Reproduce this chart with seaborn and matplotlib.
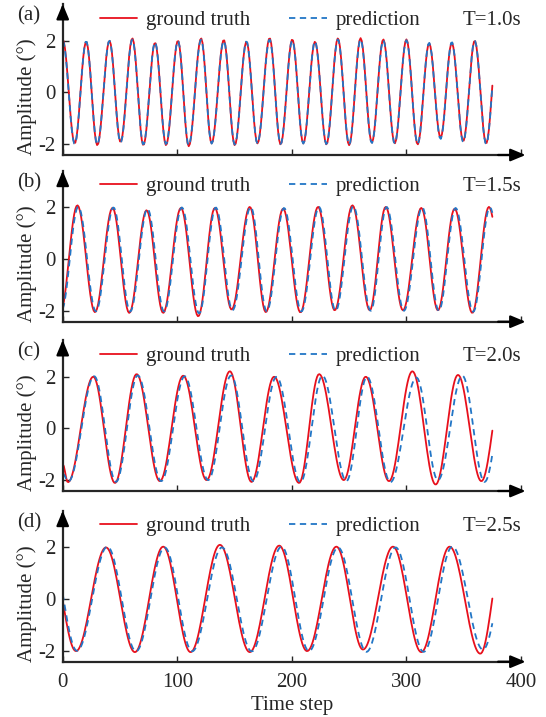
import numpy as np
import matplotlib
matplotlib.use("Agg")
import matplotlib.pyplot as plt
import seaborn as sns

# extrema (time step, amplitude); the curve passes through them
a_times = [0, 10.5, 20.5, 30.2, 40.8, 50.5, 60.8, 70.4, 80.6, 90.2,
           100.6, 110, 120.8, 130, 140.6, 150.2, 160.4, 170, 180.6, 190.2,
           200.4, 210, 220.2, 230.2, 240.2, 250, 260, 269.8, 279.8, 289.8,
           300, 309.8, 319.8, 329.8, 339.6, 349.6, 359.6, 369.6, 379.6]
a_true = [2.05, -1.97, 1.96, -2.04, 2.0, -1.92, 2.09, -2.04, 1.92, -2.04,
          2.0, -2.08, 2.09, -1.97, 2.03, -2.04, 1.96, -1.97, 2.1, -2.01,
          2.05, -1.97, 1.96, -2.01, 2.09, -2.04, 2.1, -1.94, 2.05, -1.97,
          2.05, -2.01, 1.9, -1.75, 1.92, -1.88, 2.0, -1.97, 2.0]
a_pred = [2.0, -2.0, 1.98, -2.02, 2.0, -1.95, 2.05, -2.02, 1.95, -2.0,
          2.0, -2.05, 2.05, -1.98, 2.0, -2.02, 1.98, -1.98, 2.05, -2.0,
          2.02, -1.98, 1.98, -2.0, 2.05, -2.02, 2.05, -1.96, 2.02, -1.98,
          2.02, -2.0, 1.92, -1.8, 1.95, -1.92, 2.0, -2.0, 2.0]

b_true_t = [-2, 12.8, 28.2, 43.5, 58.1, 73.2, 87.7, 103.2, 118.3, 132.8, 147.4, 163.3, 177.3,
            192.4, 207.5, 222.9, 237.4, 252.9, 268, 281.9, 297, 313, 327.5, 342.1, 357.5, 372, 387]
b_true = [-2.05, 2.08, -2.05, 1.98, -2.08, 1.89, -2.08, 1.98, -2.21, 1.98, -1.95, 2.02, -2.05,
          1.95, -2.06, 2.02, -1.98, 2.08, -1.98, 2.02, -1.98, 1.98, -1.98, 1.95, -2.08, 2.02, -2.0]
b_pred_t = [-1.2, 13.6, 29, 44.3, 58.9, 74, 88.5, 104, 119.1, 133.6, 148.2, 164.1, 178.1,
            193.2, 208.3, 223.7, 238.2, 253.7, 268.8, 282.7, 297.8, 313.8, 328.3, 342.9, 358.3, 372.8, 387.8]
b_pred = [-2.0, 2.03, -2.02, 2.0, -2.03, 1.95, -2.03, 2.0, -2.1, 2.0, -1.98, 2.02, -2.02,
          1.98, -2.03, 2.02, -2.0, 2.05, -2.0, 2.02, -2.0, 2.0, -2.0, 1.98, -2.04, 2.0, -2.0]

c_true_t = [0, 4.5, 26.7, 45.6, 64.5, 84.8, 105.2, 125.6, 145.9, 164.8, 184.5,
            206.3, 223.8, 245.3, 264.5, 284.8, 305.2, 325.5, 345, 365.4, 385]
c_true = [-1.38, -2.08, 2.0, -2.11, 2.1, -2.04, 2.04, -2.0, 2.21, -2.07, 2.0,
          -2.11, 2.1, -2.0, 2.0, -2.04, 2.21, -2.17, 2.07, -2.04, 2.0]
c_pred_t = [0, 5, 27.5, 46.5, 65.5, 86, 106.5, 127, 147, 166.5, 186.6,
            207.5, 226.7, 247.6, 265.6, 286, 308.7, 327.5, 348.8, 368.2, 388]
c_pred = [-1.75, -2.05, 2.02, -2.07, 2.05, -2.04, 2.02, -2.0, 2.05, -2.04, 2.0,
          -2.08, 2.04, -2.04, 2.0, -2.08, 1.97, -2.0, 2.04, -2.07, 2.0]

d_true_t = [-12, 11.6, 37.8, 63, 87.7, 111.6, 137.2, 163.3, 189,
            213.3, 238.9, 262.1, 288.3, 313, 337.7, 364.5, 385]
d_true = [2.0, -2.01, 2.0, -2.05, 2.03, -2.05, 2.1, -2.05, 2.07,
          -2.01, 2.03, -1.95, 2.03, -2.05, 2.03, -2.11, 2.0]
d_pred_t = [-11, 12.5, 39, 64, 89, 113, 139, 165, 191,
            215, 240.3, 265.1, 290.6, 315, 340.1, 366.8, 391]
d_pred = [2.0, -2.0, 2.03, -2.02, 2.0, -2.02, 2.0, -2.02, 2.03,
          -2.01, 2.0, -2.04, 2.0, -2.04, 2.03, -1.95, 2.0]

panel_tags = ["(a)", "(b)", "(c)", "(d)"]
period_labels = ["T=1.0s", "T=1.5s", "T=2.0s", "T=2.5s"]
x_ticks = [0, 100, 200, 300, 400]
y_ticks = [-2, 0, 2]
n_steps = 375

panels = [
    (a_times, a_true, a_times, a_pred),
    (b_true_t, b_true, b_pred_t, b_pred),
    (c_true_t, c_true, c_pred_t, c_pred),
    (d_true_t, d_true, d_pred_t, d_pred),
]


def through_extrema(te, ve, t):
    te = np.asarray(te, float)
    ve = np.asarray(ve, float)
    i = np.clip(np.searchsorted(te, t, side="right") - 1, 0, len(te) - 2)
    s = (t - te[i]) / (te[i + 1] - te[i])
    return ve[i] + (ve[i + 1] - ve[i]) * (1 - np.cos(np.pi * s)) / 2


sns.set_style("ticks")
plt.rcParams["font.family"] = ["Liberation Serif", "DejaVu Serif"]
plt.rcParams["font.size"] = 15
plt.rcParams["axes.unicode_minus"] = False

RED = "#E8101C"
BLUE = "#2276C6"
ARROW = "-|>,head_length=0.6,head_width=0.25"

fig = plt.figure(figsize=(5.46, 7.17), dpi=100)
bottoms_px = [155, 321.7, 491, 661.7]
t = np.arange(0, n_steps + 1)

for k, (tt, vt, tp, vp) in enumerate(panels):
    ax = fig.add_axes([62.7 / 546, 1 - bottoms_px[k] / 717, (521 - 62.7) / 546, 151 / 717])
    sns.lineplot(x=t, y=through_extrema(tt, vt, t), ax=ax, color=RED, lw=1.3,
                 label="ground truth")
    sns.lineplot(x=t, y=through_extrema(tp, vp, t), ax=ax, color=BLUE, lw=1.3,
                 linestyle=(0, (3.5, 2.5)), label="prediction")
    ax.set_xlim(0, 400)
    ax.set_ylim(-2.42, 3.42)
    ax.set_xticks(x_ticks)
    ax.set_yticks(y_ticks)
    ax.tick_params(direction="in", length=4, width=1, labelsize=15)
    ax.tick_params(axis="x", pad=8)
    ax.tick_params(axis="y", pad=5)
    if k < 3:
        ax.set_xticklabels([])
    else:
        ax.set_xlabel("Time step", fontsize=15, labelpad=3)
    for side in ["top", "right"]:
        ax.spines[side].set_visible(False)
    for side in ["left", "bottom"]:
        ax.spines[side].set_linewidth(1.6)
    ax.annotate("", xy=(1.01, 0), xytext=(0.95, 0), xycoords="axes fraction",
                arrowprops=dict(arrowstyle=ARROW, color="k", lw=1.6, mutation_scale=15,
                                shrinkA=0, shrinkB=0))
    ax.annotate("", xy=(0, 1.0), xytext=(0, 0.9), xycoords="axes fraction",
                arrowprops=dict(arrowstyle=ARROW, color="k", lw=1.6, mutation_scale=15,
                                shrinkA=0, shrinkB=0))
    ax.set_ylabel("Amplitude (°)", fontsize=15)
    ax.yaxis.set_label_coords(-0.056, 0.384)
    ax.text(-0.0997, 0.92, panel_tags[k], transform=ax.transAxes, fontsize=15,
            ha="left", va="center")
    ax.text(1.0, 0.894, period_labels[k], transform=ax.transAxes, fontsize=15,
            ha="right", va="center")
    ax.legend(loc="center left", bbox_to_anchor=(0.081, 0.894), ncol=2, frameon=False,
              fontsize=15, handlelength=1.8, handletextpad=0.4, columnspacing=1.9,
              borderpad=0, borderaxespad=0)

fig.savefig("out.png", dpi=100)
